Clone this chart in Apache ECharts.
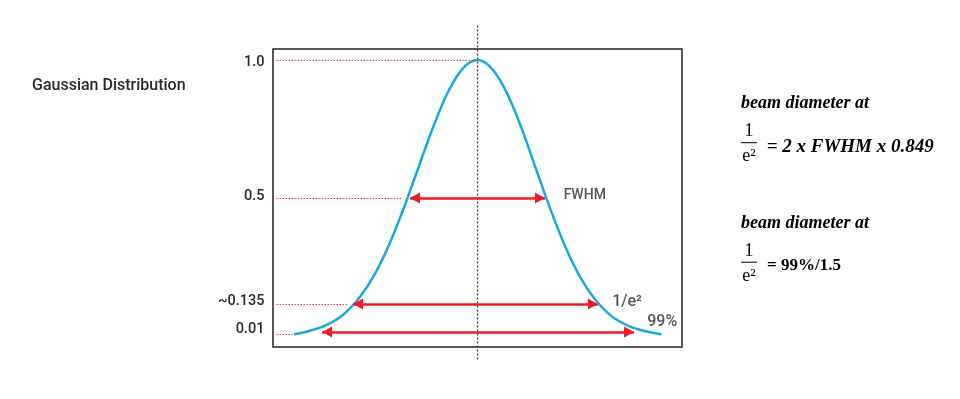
<!DOCTYPE html>
<html><head><meta charset="utf-8">
<script src="https://cdn.jsdelivr.net/npm/echarts@6/dist/echarts.min.js"></script>
<style>html,body{margin:0;padding:0;background:#fff}#c{width:960px;height:399px}</style>
</head><body><div id="c"></div>
<script>
// Gaussian curve (x in units of sigma, y relative intensity)
const curveX = [-3.14,-2.9,-2.6,-2.3,-2.0,-1.75,-1.5,-1.25,-1.0,-0.75,-0.5,-0.25,0,0.25,0.5,0.75,1.0,1.25,1.5,1.75,2.0,2.3,2.6,2.9,3.15];
const curveY = [0.006,0.017,0.038,0.077,0.145,0.227,0.337,0.470,0.617,0.762,0.886,0.970,1.0,0.968,0.882,0.755,0.606,0.458,0.325,0.216,0.136,0.071,0.035,0.016,0.006];

// level guides (red dotted) and their tick labels
const levelLabels = ['1.0','0.5','~0.135','0.01'];
const levelY = [1.0, 0.5, 0.116, 0.007];
const levelStartX = [-3.44, -3.44, -3.44, -3.44];
const levelEndX = [0, -1.28, -2.22, -3.16];

// width arrows (tip positions)
const arrowY = [0.5, 0.116, 0.0145];
const arrowLeftX = [-1.155, -2.13, -2.66];
const arrowRightX = [1.155, 2.06, 2.68];

// centre dotted line
const centerX = [0, 0];
const centerY = [1.125, -0.087];

// annotations
const noteText = ['FWHM', '1/e\u00B2', '99%'];
const noteX = [1.466, 2.297, 2.896];
const noteY = [0.509, 0.124, 0.052];

const chart = echarts.init(document.getElementById('c'), null, {renderer: 'canvas'});
const sans = 'Roboto, "Liberation Sans", sans-serif';
const serif = '"Liberation Serif", "Times New Roman", serif';
const labelNudge = [2.5, -1.5, -3, -4.5];
const noteSize = [14, 16, 16];

const option = {
  animation: false,
  backgroundColor: '#ffffff',
  title: {
    text: 'Gaussian Distribution', left: 32, top: 78, padding: 0,
    textStyle: {fontFamily: sans, fontSize: 16, fontWeight: 500, color: '#2a2a2a'}
  },
  grid: {left: 273, right: 278, top: 49, bottom: 52, show: true, borderColor: '#222', borderWidth: 1.5, backgroundColor: 'transparent'},
  xAxis: {type: 'value', min: -3.5, max: 3.5, show: false},
  yAxis: {type: 'value', min: -0.04, max: 1.04, show: false},
  series: [
    {
      name: 'center', type: 'line', clip: false, silent: true, z: 1,
      data: centerX.map((x, i) => [x, centerY[i]]),
      symbol: 'none',
      lineStyle: {color: '#333', width: 1.2, type: [2, 2]}
    },
    {
      name: 'levels', type: 'line', data: [], z: 2,
      markLine: {
        silent: true, symbol: ['none', 'none'], animation: false,
        lineStyle: {color: '#ef3b3b', width: 1, type: [1.5, 1.5]},
        label: {show: true, position: 'start', distance: 12, formatter: '{b}',
                fontFamily: sans, fontSize: 14.5, fontWeight: 500, color: '#2a2a2a'},
        data: levelY.map((y, i) => [
          {coord: [levelStartX[i], y], name: levelLabels[i], label: {offset: [0, labelNudge[i]]}},
          {coord: [levelEndX[i], y]}
        ])
      }
    },
    {
      name: 'gaussian', type: 'line', smooth: 0.35, symbol: 'none', z: 3,
      data: curveX.map((x, i) => [x, curveY[i]]),
      lineStyle: {color: '#1ca8e0', width: 2.5}
    },
    {
      name: 'arrows', type: 'line', data: [], z: 4,
      markLine: {
        silent: true, animation: false,
        symbol: ['triangle', 'triangle'], symbolSize: [11, 10], symbolOffset: [[0, 5], [0, 5]],
        lineStyle: {color: '#ec1c24', width: 2.5, type: 'solid'},
        itemStyle: {color: '#ec1c24'},
        label: {show: false},
        data: arrowY.map((y, i) => [
          {coord: [arrowLeftX[i], y]},
          {coord: [arrowRightX[i], y]}
        ])
      }
    },
    {
      name: 'notes', type: 'scatter', z: 5, silent: true,
      symbolSize: 1, itemStyle: {color: 'rgba(0,0,0,0)'},
      data: noteX.map((x, i) => ({value: [x, noteY[i]], name: noteText[i], label: {fontSize: noteSize[i]}})),
      label: {show: true, position: 'right', distance: 0, formatter: '{b}',
              fontFamily: sans, fontSize: 15, fontWeight: 500, color: '#2a2a2a'}
    }
  ],
  graphic: [
    {type: 'text', x: 741, y: 103.4, style: {text: 'beam diameter at', font: 'italic bold 18px ' + serif, fill: '#000', verticalAlign: 'middle'}},
    {type: 'text', x: 749, y: 131.3, style: {text: '1', font: '18px ' + serif, fill: '#000', align: 'center', verticalAlign: 'middle'}},
    {type: 'line', shape: {x1: 741, y1: 142.7, x2: 757, y2: 142.7}, style: {stroke: '#000', lineWidth: 1}},
    {type: 'text', x: 749, y: 156.3, style: {text: 'e\u00B2', font: '18px ' + serif, fill: '#000', align: 'center', verticalAlign: 'middle'}},
    {type: 'text', x: 766.7, y: 147.3, style: {text: '= 2 x FWHM x 0.849', font: 'italic bold 19px ' + serif, fill: '#000', verticalAlign: 'middle'}},

    {type: 'text', x: 741, y: 223.4, style: {text: 'beam diameter at', font: 'italic bold 18px ' + serif, fill: '#000', verticalAlign: 'middle'}},
    {type: 'text', x: 749, y: 251.3, style: {text: '1', font: '18px ' + serif, fill: '#000', align: 'center', verticalAlign: 'middle'}},
    {type: 'line', shape: {x1: 741, y1: 262.2, x2: 757, y2: 262.2}, style: {stroke: '#000', lineWidth: 1}},
    {type: 'text', x: 749, y: 275.8, style: {text: 'e\u00B2', font: '18px ' + serif, fill: '#000', align: 'center', verticalAlign: 'middle'}},
    {type: 'text', x: 767, y: 265.9, style: {text: '= 99%/1.5', font: 'bold 17px ' + serif, fill: '#000', verticalAlign: 'middle'}}
  ]
};
chart.setOption(option);
</script>
</body></html>
